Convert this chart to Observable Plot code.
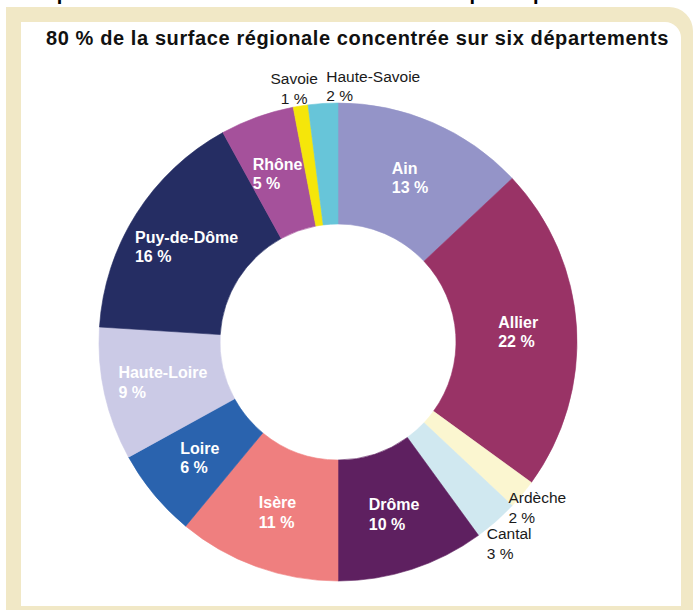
<!DOCTYPE html>
<html lang="fr">
<head>
<meta charset="utf-8">
<script src="https://cdn.jsdelivr.net/npm/d3@7"></script>
<script src="https://cdn.jsdelivr.net/npm/@observablehq/plot@0.6"></script>
<style>
html, body { margin: 0; padding: 0; background: #fff; }
#page { position: relative; width: 693px; height: 610px; overflow: hidden; font-family: "Liberation Sans", Arial, sans-serif; }
#cut { position: absolute; left: 30px; top: -17px; font-weight: bold; font-size: 20px; line-height: 20px; letter-spacing: 0.6px; white-space: nowrap; color: #000; }
#frame { position: absolute; left: 6px; top: 7px; width: 687px; height: 603px; background: #f1e8c6; border-top-right-radius: 24px; }
#panel { position: absolute; left: 21px; top: 22px; width: 660px; height: 584px; background: #fff; border-top-right-radius: 16px; }
#title { position: absolute; left: 46px; top: 28px; font-weight: bold; font-size: 20px; line-height: 20px; letter-spacing: 0.6px; white-space: nowrap; color: #111; }
#chart { position: absolute; left: 21px; top: 60px; }
</style>
</head>
<body>
<div id="page">
  <div id="cut">Répartition de la surface totale en céréales par département</div>
  <div id="frame"></div>
  <div id="panel"></div>
  <div id="title">80 % de la surface régionale concentrée sur six départements</div>
  <div id="chart"></div>
</div>
<script>
// ---- Données ----
const departements = ["Ain", "Allier", "Ardèche", "Cantal", "Drôme", "Isère", "Loire", "Haute-Loire", "Puy-de-Dôme", "Rhône", "Savoie", "Haute-Savoie"];
const parts = [13, 22, 2, 3, 10, 11, 6, 9, 16, 5, 1, 2];
const couleurs = ["#9494c8", "#993366", "#fbf6d0", "#d0e8f0", "#5e2060", "#ef7f7f", "#2a63ae", "#cbcae6", "#252d63", "#a5519b", "#f5e60a", "#67c5d9"];

// ---- Mise en page ----
const W = 660, H = 545, CX = 317, CY = 282;
const R_OUT = 239, R_IN = 118, R_LAB_IN = 180, R_LAB_OUT = 258;
const SEUIL_EXT = 3;
const FONT_IN = "bold 16px 'Liberation Sans'";
const FONT_OUT = "15.5px 'Liberation Sans'";
const placementExterne = { "Savoie": "middle", "Haute-Savoie": "start" };
const ECART_HAUT = 4;      // écart horizontal entre les deux étiquettes du haut
const SEP_MIN = 36;        // écart vertical minimal entre étiquettes extérieures voisines

const arcs = d3.pie().sort(null).value(d => d)(parts);

const ctx = document.createElement("canvas").getContext("2d");
const largeur = (lines, font) => { ctx.font = font; return d3.max(lines, l => ctx.measureText(l).width); };

const labels = arcs.map((a, i) => {
  const mid = (a.startAngle + a.endAngle) / 2;
  const outside = parts[i] <= SEUIL_EXT;
  const r = outside ? R_LAB_OUT : R_LAB_IN;
  const lines = [departements[i], `${parts[i]} %`];
  const w = largeur(lines, outside ? FONT_OUT : FONT_IN);
  const px = r * Math.sin(mid), py = r * Math.cos(mid);
  const mode = outside ? (placementExterne[departements[i]] || "block") : "block";
  let x = mode === "block" ? px - w / 2 : px;
  if (mode === "middle") x -= ECART_HAUT;
  if (mode === "start") x += ECART_HAUT;
  return { text: lines.join("\n"), outside, mode, x, y: py, mid };
});

// éviter le chevauchement vertical des étiquettes extérieures de droite (en bas)
const extBlocks = labels.filter(d => d.outside && d.mode === "block").sort((a, b) => a.mid - b.mid);
for (let j = 1; j < extBlocks.length; j++) {
  const prev = extBlocks[j - 1], cur = extBlocks[j];
  if (prev.y - cur.y < SEP_MIN) cur.y = prev.y - SEP_MIN;
}

function slices(index, scales) {
  const cx = scales.x(0), cy = scales.y(0);
  const k = scales.x(1) - scales.x(0);
  const arc = d3.arc().innerRadius(R_IN * k).outerRadius(R_OUT * k);
  const g = d3.create("svg:g").attr("transform", `translate(${cx},${cy})`);
  g.selectAll("path").data(arcs).join("path")
    .attr("d", arc)
    .attr("fill", (d, i) => couleurs[i])
    .attr("stroke", (d, i) => couleurs[i])
    .attr("stroke-width", 0.6);
  return g.node();
}

const ff = "'Liberation Sans', Arial, sans-serif";
const plot = Plot.plot({
  width: W, height: H,
  marginLeft: CX - R_OUT, marginRight: W - CX - R_OUT,
  marginTop: CY - R_OUT, marginBottom: H - CY - R_OUT,
  x: { domain: [-R_OUT, R_OUT], axis: null },
  y: { domain: [-R_OUT, R_OUT], axis: null },
  style: { background: "transparent", fontFamily: ff, overflow: "visible" },
  marks: [
    slices,
    Plot.text(labels.filter(d => !d.outside), {
      x: "x", y: "y", text: "text", textAnchor: "start", lineAnchor: "middle", lineHeight: 1.22,
      fontSize: 16, fontWeight: "bold", fill: "white", fontFamily: ff
    }),
    Plot.text(labels.filter(d => d.outside && d.mode !== "middle"), {
      x: "x", y: "y", text: "text", textAnchor: "start", lineAnchor: "middle", lineHeight: 1.25,
      fontSize: 15.5, fill: "#1a1a1a", fontFamily: ff
    }),
    Plot.text(labels.filter(d => d.outside && d.mode === "middle"), {
      x: "x", y: "y", text: "text", textAnchor: "middle", lineAnchor: "middle", lineHeight: 1.25,
      fontSize: 15.5, fill: "#1a1a1a", fontFamily: ff
    })
  ]
});
document.getElementById("chart").appendChild(plot);
</script>
</body>
</html>
